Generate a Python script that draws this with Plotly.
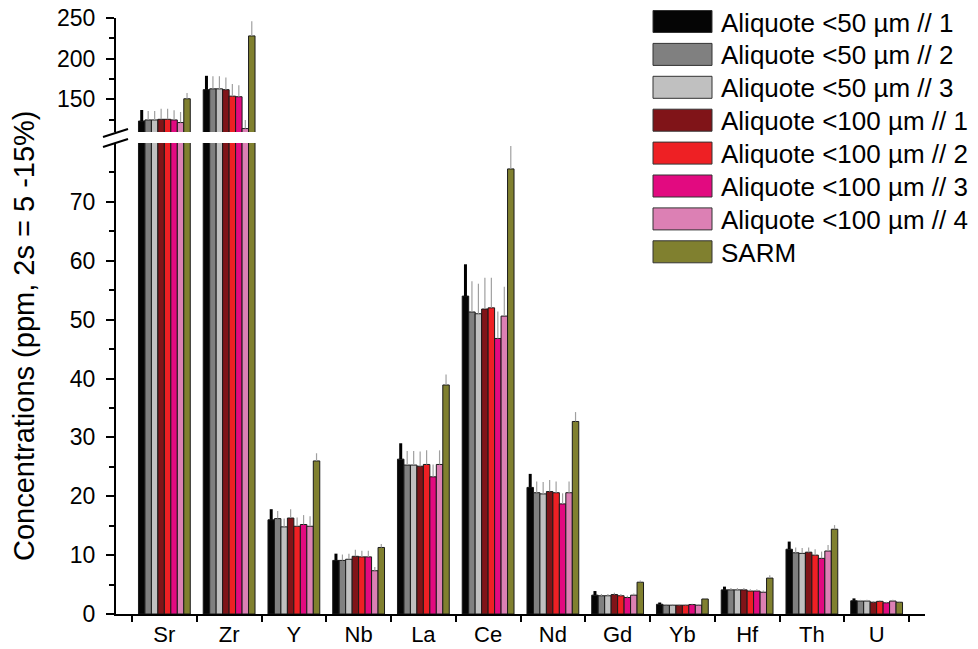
import plotly.graph_objects as go

categories = ["Sr", "Zr", "Y", "Nb", "La", "Ce", "Nd", "Gd", "Yb", "Hf", "Th", "U"]

series_names = [
    "Aliquote <50 µm // 1", "Aliquote <50 µm // 2", "Aliquote <50 µm // 3",
    "Aliquote <100 µm // 1", "Aliquote <100 µm // 2", "Aliquote <100 µm // 3",
    "Aliquote <100 µm // 4", "SARM",
]

a50_1 = [123.5, 162, 16.0, 9.1, 26.3, 54.0, 21.5, 3.2, 1.65, 4.1, 11.0, 2.25]
a50_1_err = [13.5, 17, 1.8, 1.15, 2.7, 5.4, 2.3, 0.7, 0.3, 0.55, 1.3, 0.4]
a50_2 = [124.8, 163, 16.2, 9.1, 25.3, 51.3, 20.6, 3.1, 1.5, 4.1, 10.4, 2.2]
a50_2_err = [11, 15.5, 1.3, 1.0, 2.4, 5.2, 1.9, 0.3, 0.15, 0.3, 0.9, 0.2]
a50_3 = [124.8, 163, 14.8, 9.3, 25.3, 51.0, 20.4, 3.1, 1.5, 4.1, 10.3, 2.2]
a50_3_err = [11, 15.5, 1.4, 0.95, 2.4, 5.1, 2.0, 0.3, 0.15, 0.3, 0.9, 0.2]
a100_1 = [125.6, 162, 16.3, 9.8, 25.1, 51.8, 20.8, 3.3, 1.5, 4.1, 10.5, 2.0]
a100_1_err = [13, 15, 1.5, 1.1, 2.5, 5.3, 1.95, 0.3, 0.15, 0.3, 0.8, 0.2]
a100_2 = [125.6, 154, 14.9, 9.7, 25.4, 52.0, 20.6, 3.1, 1.5, 3.9, 10.0, 2.15]
a100_2_err = [13, 15, 1.5, 1.05, 2.4, 5.1, 1.9, 0.3, 0.15, 0.3, 1.0, 0.2]
a100_3 = [124.8, 153.3, 15.2, 9.7, 23.3, 46.8, 18.7, 2.8, 1.6, 3.9, 9.45, 1.9]
a100_3_err = [12, 14, 1.6, 1.05, 2.1, 4.6, 1.8, 0.3, 0.15, 0.3, 1.15, 0.2]
a100_4 = [121.6, 114.2, 14.9, 7.35, 25.4, 50.6, 20.6, 3.2, 1.5, 3.7, 10.7, 2.2]
a100_4_err = [13, 10.5, 1.7, 0.65, 2.4, 5.0, 1.9, 0.3, 0.15, 0.3, 1.0, 0.2]
sarm = [150.8, 228, 26.0, 11.3, 38.9, 75.6, 32.7, 5.4, 2.55, 6.1, 14.4, 2.0]
sarm_err = [7, 18, 1.3, 0.6, 1.8, 3.9, 1.6, 0.3, 0.1, 0.5, 0.7, 0.1]

values = [a50_1, a50_2, a50_3, a100_1, a100_2, a100_3, a100_4, sarm]
errors = [a50_1_err, a50_2_err, a50_3_err, a100_1_err, a100_2_err,
          a100_3_err, a100_4_err, sarm_err]
colors = ["#050505", "#808080", "#C0C0C0", "#801418", "#EE2024",
          "#E20A80", "#DC80B4", "#80802F"]

lower_ticks = [0, 10, 20, 30, 40, 50, 60, 70]
lower_minor = [5, 15, 25, 35, 45, 55, 65, 75]
upper_ticks = [150, 200, 250]
upper_minor = [125, 175, 225]

FONT = "Liberation Sans, Arial, sans-serif"

W, H = 978, 649
L, R, T, B = 116, 925, 18, 614
PW, PH = R - L, B - T


def px(x):
    return (x - L) / PW


def py(y):
    return (B - y) / PH


fig = go.Figure()
for i, (name, vals, errs, col) in enumerate(zip(series_names, values, errors, colors)):
    if i == 0:
        ecol, ethick = "#000000", 3
    else:
        ecol, ethick = "#A0A0A0", 1.2
    for yax in ["y", "y2"]:
        fig.add_trace(go.Bar(
            x=categories, y=vals, name=name, yaxis=yax, xaxis="x",
            marker=dict(color=col, line=dict(color="#1a1a1a", width=1)),
            error_y=dict(type="data", array=errs, arrayminus=[0] * len(errs),
                         symmetric=False, color=ecol, thickness=ethick, width=0),
            showlegend=False, hoverinfo="x+y+name",
        ))

upper_bottom = py(132)
lower_top = py(143)

yaxis_common = dict(
    anchor="x", automargin=False,
    showline=True, linecolor="black", linewidth=2,
    ticks="outside", ticklen=8, tickwidth=2, tickcolor="black",
    tickmode="array", ticklabelstandoff=6,
    showgrid=False, zeroline=False,
    tickfont=dict(family=FONT, size=23, color="black"),
)

fig.update_layout(
    width=W, height=H,
    margin=dict(l=L, r=W - R, t=T, b=H - B, pad=0, autoexpand=False),
    paper_bgcolor="white", plot_bgcolor="white",
    barmode="group", bargap=0.2, bargroupgap=0,
    font=dict(family=FONT, size=22, color="black"),
    xaxis=dict(
        range=[-0.747, 11.747], anchor="y", showline=True, linecolor="black",
        linewidth=2, ticks="outside", ticklen=6, tickwidth=2, tickcolor="black",
        tickson="boundaries", showgrid=False, zeroline=False, automargin=False,
        tickfont=dict(family=FONT, size=22, color="black"),
    ),
    yaxis=dict(
        domain=[0, lower_top], range=[0, 80], tickvals=lower_ticks,
        minor=dict(tickmode="array", tickvals=lower_minor, ticks="outside",
                   ticklen=5, tickwidth=2, tickcolor="black", showgrid=False),
        **yaxis_common,
    ),
    yaxis2=dict(
        domain=[upper_bottom, 1], range=[110, 250], tickvals=upper_ticks,
        minor=dict(tickmode="array", tickvals=upper_minor, ticks="outside",
                   ticklen=5, tickwidth=2, tickcolor="black", showgrid=False),
        **yaxis_common,
    ),
)

shapes = []
# axis break marks
for (x0, y0, x1, y1) in [(103, 137, 128, 129), (103, 147, 128, 139)]:
    shapes.append(dict(type="line", xref="paper", yref="paper",
                       x0=px(x0), y0=py(y0), x1=px(x1), y1=py(y1),
                       line=dict(color="black", width=2)))

annotations = []
# legend (manual, large swatches)
for i, (name, col) in enumerate(zip(series_names, colors)):
    cy = 21.5 + 32.9 * i
    shapes.append(dict(type="rect", xref="paper", yref="paper",
                       x0=px(653), x1=px(712), y0=py(cy - 11), y1=py(cy + 11),
                       fillcolor=col, line=dict(color="#333333", width=1)))
    annotations.append(dict(text=name, xref="paper", yref="paper",
                            x=px(719), y=py(cy + 1), xanchor="left", yanchor="middle",
                            showarrow=False,
                            font=dict(family=FONT, size=26, color="black")))

annotations.append(dict(text="Concentrations (ppm, 2s = 5 -15%)", xref="paper", yref="paper",
                        x=px(24), y=py(336), xanchor="center", yanchor="middle",
                        textangle=-90, showarrow=False,
                        font=dict(family=FONT, size=29, color="black")))

fig.update_layout(shapes=shapes, annotations=annotations)

fig.write_html(
    "out.html",
    config={"displayModeBar": False},
    post_script="document.body.style.margin='0';document.body.style.padding='0';",
)
